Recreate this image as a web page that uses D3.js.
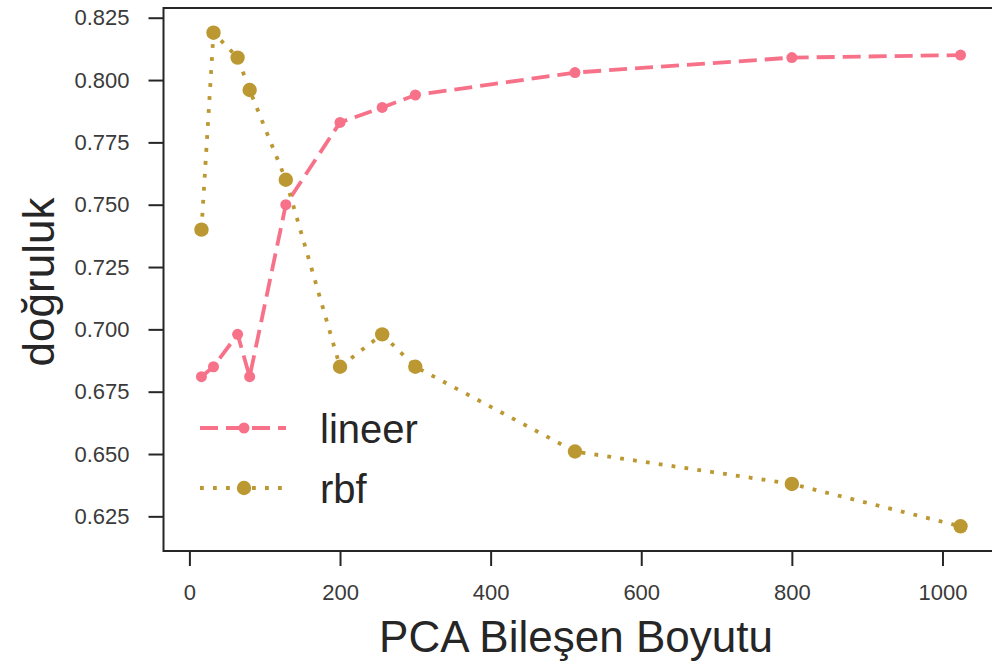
<!DOCTYPE html>
<html><head><meta charset="utf-8">
<script src="https://cdn.jsdelivr.net/npm/d3@7"></script>
<style>body{margin:0;background:#fff}text{font-family:"Liberation Sans",Arial,sans-serif}</style>
</head><body><svg id="c" width="992" height="661"></svg>
<script>
const components = [16, 32, 64, 80, 128, 200, 256, 300, 512, 800, 1024];
const lineer = [0.681, 0.685, 0.698, 0.681, 0.750, 0.783, 0.789, 0.794, 0.803, 0.809, 0.810];
const rbf    = [0.740, 0.819, 0.809, 0.796, 0.760, 0.685, 0.698, 0.685, 0.651, 0.638, 0.621];
const xTicks = [0, 200, 400, 600, 800, 1000];
const yTicks = [0.625, 0.650, 0.675, 0.700, 0.725, 0.750, 0.775, 0.800, 0.825];
const seriesNames = ["lineer", "rbf"];
const colors = ["#f77189", "#bb9832"];
const xLabel = "PCA Bileşen Boyutu", yLabel = "doğruluk";

const svg = d3.select("#c");
const L = 163.5, R = 998.5, T = 8, B = 551;
const xmin = d3.min(components), xmax = d3.max(components), xr = xmax - xmin;
const allY = lineer.concat(rbf);
const ymin = d3.min(allY), ymax = d3.max(allY), yr = ymax - ymin;
const x = d3.scaleLinear().domain([xmin - 0.05*xr, xmax + 0.05*xr]).range([L, R]);
const y = d3.scaleLinear().domain([ymin - 0.05*yr, ymax + 0.05*yr]).range([B, T]);

const tc = "#262626";
const gx = svg.append("g").attr("transform", `translate(0,${B})`)
  .call(d3.axisBottom(x).tickValues(xTicks).tickFormat(d3.format("d")).tickSize(15).tickPadding(18));
const gy = svg.append("g").attr("transform", `translate(${L},0)`)
  .call(d3.axisLeft(y).tickValues(yTicks).tickFormat(d3.format(".3f")).tickSize(15).tickPadding(19));
[gx, gy].forEach(g => {
  g.select(".domain").remove();
  g.selectAll(".tick line").attr("stroke", tc).attr("stroke-width", 2);
  g.selectAll(".tick text").attr("fill", "#3a3a3a").style("font-size", "22px");
});
svg.append("rect").attr("x", L).attr("y", T).attr("width", R - L).attr("height", B - T)
  .attr("fill", "none").attr("stroke", tc).attr("stroke-width", 2);

const data = [lineer, rbf];
const dash = ["18,8", "3.8,9.2"];
const lw = [3.8, 3.8];
const mr = [5.5, 7.2];
data.forEach((vals, i) => {
  const pts = components.map((c, j) => [c, vals[j]]);
  svg.append("path").datum(pts)
    .attr("d", d3.line().x(d => x(d[0])).y(d => y(d[1])))
    .attr("fill", "none").attr("stroke", colors[i]).attr("stroke-width", lw[i])
    .attr("stroke-dasharray", dash[i]);
  svg.append("g").selectAll("circle").data(pts).join("circle")
    .attr("cx", d => x(d[0])).attr("cy", d => y(d[1])).attr("r", mr[i]).attr("fill", colors[i]);
});

const legY = [428, 488];
seriesNames.forEach((n, i) => {
  svg.append("line").attr("x1", 200).attr("x2", 286).attr("y1", legY[i]).attr("y2", legY[i])
    .attr("stroke", colors[i]).attr("stroke-width", lw[i]).attr("stroke-dasharray", dash[i]);
  svg.append("circle").attr("cx", 244).attr("cy", legY[i]).attr("r", mr[i]).attr("fill", colors[i]);
  svg.append("text").attr("x", 320).attr("y", legY[i] + 15).text(n)
    .attr("fill", tc).style("font-size", "40px");
});

svg.append("text").attr("x", 576).attr("y", 652).attr("text-anchor", "middle")
  .attr("fill", tc).style("font-size", "44px").text(xLabel);
svg.append("text").attr("transform", "translate(54,282) rotate(-90)").attr("text-anchor", "middle")
  .attr("fill", tc).style("font-size", "44px").text(yLabel);
</script></body></html>
